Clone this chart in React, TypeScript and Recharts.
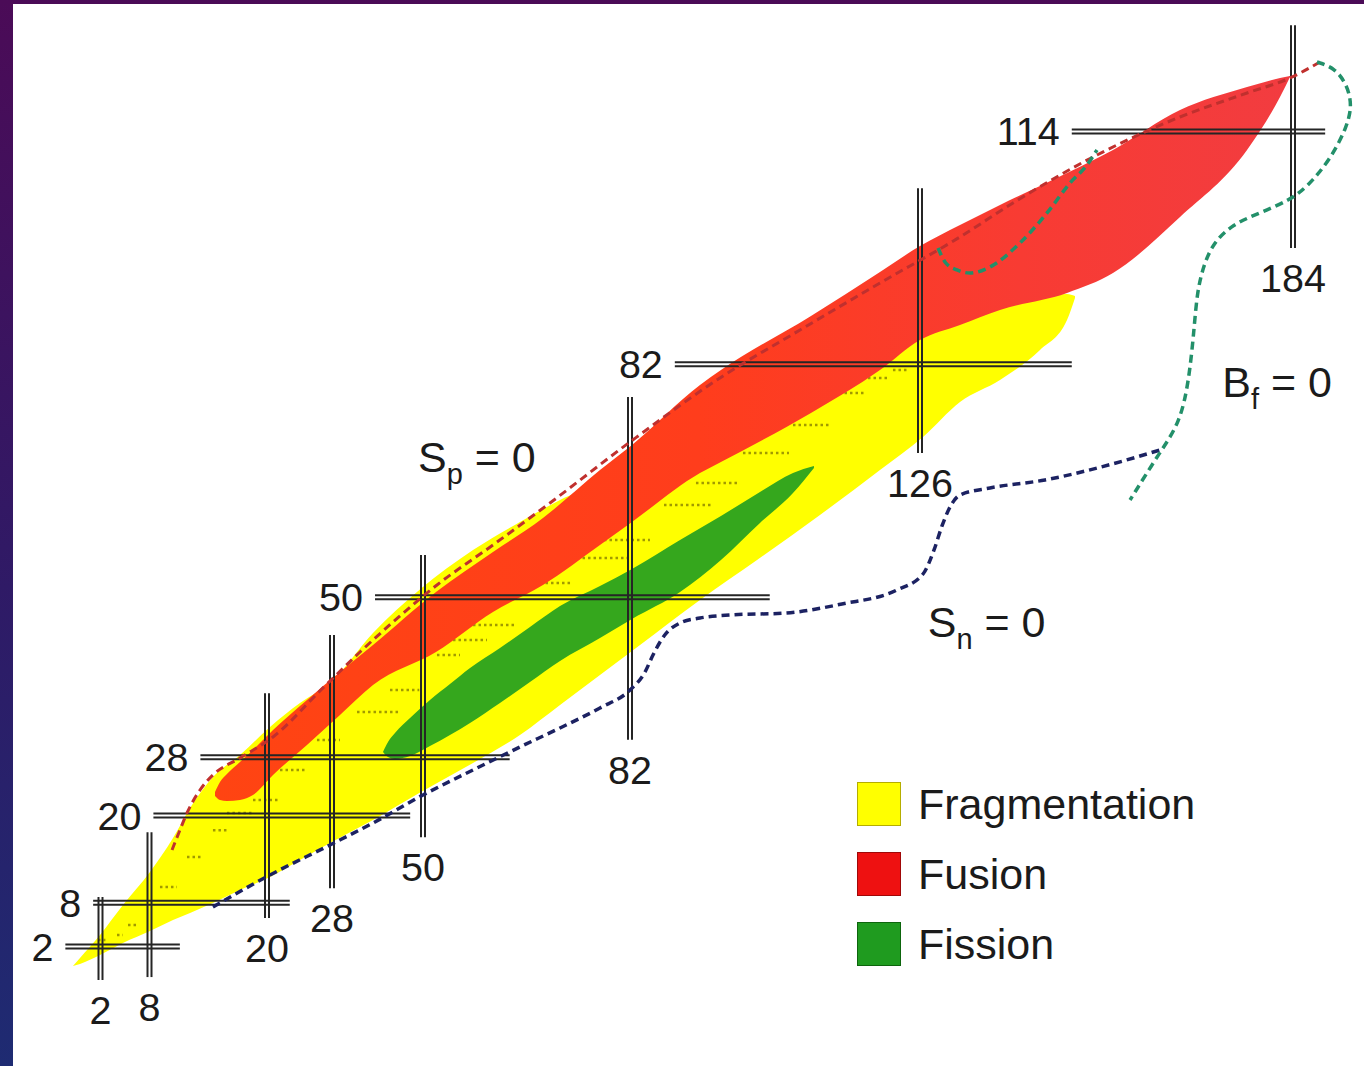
import React from 'react';
import { ComposedChart, Area, Line, XAxis, YAxis, ReferenceLine, ReferenceDot, Legend } from 'recharts';

// magic numbers: neutron lines (vertical) and proton lines (horizontal), each with the span it is drawn over
const N_MAGIC = [2, 8, 20, 28, 50, 82, 126, 184];
const N_MAGIC_SPAN = [[-2.6, 8.8], [-2.2, 17.7], [5.9, 36.8], [10.0, 44.8], [17.0, 55.8], [30.4, 77.5], [69.8, 106.2], [98.0, 128.6]];
const Z_MAGIC = [2, 8, 20, 28, 50, 82, 114];
const Z_MAGIC_SPAN = [[-2.3, 11.1], [1.1, 22.8], [8.4, 46.9], [13.2, 63.4], [38.4, 103.2], [88.8, 149.6], [149.6, 189.0]];

// fragmentation region: neutron number, lower / upper proton edge
const FRAG_N = [-1.37, -0.51, 1.94, 4.75, 8.05, 10.4, 12.14, 14.48, 17.24, 20.37, 24.06, 27.75, 37.91, 49.1, 57.73, 64.99, 71.18, 77.36, 83.52, 92.62, 101.27, 110.82, 119.93, 126.47, 132.22, 138.44, 144.66, 148.86, 150.1];
const FRAG_LO = [-0.68, -0.4, 0.83, 2.48, 4.13, 5.64, 6.61, 7.98, 9.77, 11.55, 13.89, 16.22, 19.39, 23.1, 27.22, 31.07, 35.19, 39.31, 43.43, 49.62, 55.11, 61.3, 67.48, 72.02, 76.83, 79.85, 83.97, 88.1, 91.12];
const FRAG_HI = [-0.68, 0.42, 3.58, 7.7, 12.24, 16.91, 21.03, 25.29, 28.32, 32.17, 35.46, 38.21, 45.08, 50.99, 56.49, 60.34, 63.36, 65.83, 69.54, 74.35, 79.16, 83.97, 87.41, 89.19, 90.16, 90.84, 91.39, 91.67, 91.39];

// fusion region
const FUS_N = [14.69, 15.2, 15.91, 17.24, 18.57, 20.74, 24.92, 29.93, 37.91, 52.01, 60.82, 68.55, 77.36, 82.3, 92.62, 95.8, 109.46, 119.93, 126.0, 132.22, 138.44, 148.86, 156.01, 166.43, 176.85, 181.98, 183.53];
const FUS_LO = [22.68, 22.13, 22.0, 22.13, 22.82, 25.57, 29.69, 33.81, 37.94, 42.47, 47.97, 51.68, 57.18, 60.34, 67.07, 68.58, 75.32, 81.22, 85.35, 87.41, 89.47, 91.81, 94.55, 102.25, 111.46, 118.74, 121.49];
const FUS_HI = [23.23, 24.61, 25.71, 27.36, 29.0, 31.75, 35.88, 39.72, 43.43, 50.72, 56.21, 60.89, 67.48, 70.92, 79.16, 81.22, 88.65, 94.69, 98.26, 101.15, 103.9, 108.3, 111.46, 116.95, 120.11, 121.35, 121.63];

// fission region
const FIS_N = [40.33, 41.54, 43.23, 46.86, 51.08, 54.17, 57.27, 61.9, 66.54, 71.18, 77.36, 82.3, 89.59, 95.8, 101.72, 106.73, 109.91];
const FIS_LO = [28.73, 28.04, 27.77, 28.18, 29.55, 31.07, 32.72, 35.46, 38.35, 41.24, 44.4, 47.01, 50.72, 55.11, 60.2, 64.32, 67.76];
const FIS_HI = [28.73, 30.1, 31.34, 33.4, 35.88, 38.07, 40.27, 43.02, 45.91, 48.79, 51.54, 53.88, 57.86, 61.16, 64.46, 67.07, 68.03];

// drip lines and fission barrier
const SP_N = [10.3, 11.11, 11.83, 13.16, 14.48, 17.24, 20.74, 26.89, 34.77, 42.75, 52.16, 60.82, 69.63, 82.0, 95.65, 107.8, 119.93, 132.22, 140.46, 153.52, 166.43, 176.85, 183.53, 188.2];
const SP_Z = [15.26, 18.01, 20.35, 23.51, 25.57, 27.91, 30.79, 37.53, 42.47, 46.59, 51.68, 57.18, 62.95, 71.33, 80.13, 86.72, 93.18, 99.5, 104.17, 110.77, 115.99, 119.29, 121.35, 123.55];
const SN_N = [14.48, 20.37, 27.75, 37.91, 50.0, 57.73, 64.99, 71.18, 77.36, 82.0, 84.28, 85.49, 87.16, 89.59, 92.62, 97.32, 105.67, 114.16, 122.5, 126.47, 128.18, 129.42, 130.51, 132.22, 136.89, 145.44, 154.15, 163.32];
const SN_Z = [7.43, 11.83, 15.95, 18.97, 22.82, 26.26, 29.42, 32.03, 34.78, 37.25, 39.72, 42.06, 44.67, 46.46, 47.14, 47.56, 47.83, 49.07, 50.99, 53.19, 56.49, 59.79, 62.12, 64.05, 65.01, 66.11, 67.89, 70.23];
const BF_INNER_N = [128.8, 129.89, 131.75, 133.78, 136.89, 141.55, 145.75, 149.33, 151.97, 153.52];
const BF_INNER_Z = [97.99, 96.07, 94.97, 94.55, 95.38, 98.68, 102.8, 106.92, 109.4, 111.46];
const BF_OUTER_N = [187.73, 190.53, 192.4, 193.18, 192.4, 189.76, 186.18, 183.53, 178.87, 174.67, 171.56, 170.01, 169.08, 168.61, 167.83, 166.43, 163.32, 158.66];
const BF_OUTER_Z = [123.55, 122.73, 120.39, 117.64, 114.62, 110.08, 106.37, 104.59, 102.8, 101.29, 98.68, 95.38, 91.81, 86.72, 79.85, 73.94, 69.96, 63.36];

// rows of stable nuclides: proton number and neutron extent
const STABLE_Z = [2.9, 3.58, 4.96, 10.18, 14.3, 17.99, 20.35, 22.13, 26.25, 30.38, 34.23, 37.25, 42.06, 44.12, 46.18, 51.95, 55.39, 57.86, 62.67, 65.7, 69.82, 73.67, 78.06, 80.13, 81.22];
const STABLE_N_FROM = [1.7, 4.02, 5.37, 9.07, 11.83, 14.48, 15.91, 18.57, 21.6, 26.15, 34.05, 42.02, 52.16, 54.64, 57.73, 68.09, 73.81, 77.98, 87.16, 92.01, 99.14, 106.73, 113.71, 116.44, 121.9];
const STABLE_N_TO = [2.6, 4.75, 6.47, 10.81, 13.46, 15.91, 18.57, 21.6, 24.92, 29.93, 44.44, 49.1, 55.72, 59.89, 64.53, 73.19, 81.54, 85.03, 94.29, 98.54, 106.12, 112.19, 117.5, 121.3, 124.0];

const CURVE_MAIN = ['S', 'S', 'B'];
const CURVE_SUB = ['p', 'n', 'f'];
const CURVE_N = [48.8, 127.2, 173.0];
const CURVE_Z = [67.2, 44.5, 77.5];

const LEGEND_NAMES = ['Fragmentation', 'Fusion', 'Fission'];
const LEGEND_FILL = ['#ffff00', '#ee1111', '#1f9b1f'];
const LEGEND_EDGE = ['#b5ad00', '#a00808', '#0d650d'];

// the neutron axis is stretched unevenly at light masses; knots pair N with relative positions
const N_KNOTS = [-8, 2, 8, 20, 28, 50, 82, 126, 184, 196];
const U_KNOTS = [0, 81.7, 130.7, 248.2, 313.2, 404.2, 611.2, 901.2, 1274.2, 1351.4];

const FONT = '"Liberation Sans", Arial, Helvetica, sans-serif';
const INK = '#1b1b1b';

const interp = (v: number, from: number[], to: number[]) => {
  let i = 0;
  if (v >= from[from.length - 1]) i = from.length - 2;
  else if (v > from[0]) while (v > from[i + 1]) i++;
  return to[i] + ((v - from[i]) * (to[i + 1] - to[i])) / (from[i + 1] - from[i]);
};

function stretchScale(): any {
  let dom = [0, 1];
  let rng = [0, 1];
  const scale: any = (v: any) => {
    const a = interp(dom[0], N_KNOTS, U_KNOTS);
    const b = interp(dom[1], N_KNOTS, U_KNOTS);
    return rng[0] + ((interp(Number(v), N_KNOTS, U_KNOTS) - a) / (b - a)) * (rng[1] - rng[0]);
  };
  scale.domain = (d?: any[]) => {
    if (!d) return dom.slice();
    dom = [Number(d[0]), Number(d[d.length - 1])];
    return scale;
  };
  scale.range = (r?: any[]) => {
    if (!r) return rng.slice();
    rng = [Number(r[0]), Number(r[r.length - 1])];
    return scale;
  };
  scale.invert = (px: number) => {
    const a = interp(dom[0], N_KNOTS, U_KNOTS);
    const b = interp(dom[1], N_KNOTS, U_KNOTS);
    const u = a + ((px - rng[0]) / (rng[1] - rng[0])) * (b - a);
    return interp(u, U_KNOTS, N_KNOTS);
  };
  scale.ticks = () => N_MAGIC.slice();
  scale.copy = () => stretchScale().domain(dom).range(rng);
  return scale;
}

const nScale = stretchScale();

const toBand = (ns: number[], lo: number[], hi: number[]) => ns.map((n, i) => ({ n, range: [lo[i], hi[i]] }));
const toCurve = (ns: number[], zs: number[]) => ns.map((n, i) => ({ n, z: zs[i] }));

const fragData = toBand(FRAG_N, FRAG_LO, FRAG_HI);
const fusData = toBand(FUS_N, FUS_LO, FUS_HI);
const fisData = toBand(FIS_N, FIS_LO, FIS_HI);
const spData = toCurve(SP_N, SP_Z);
const snData = toCurve(SN_N, SN_Z);
const bfInner = toCurve(BF_INNER_N, BF_INNER_Z);
const bfOuter = toCurve(BF_OUTER_N, BF_OUTER_Z);

// double rule with its number, below for N lines, left for Z lines
const magicShape = (label: number) => (p: any) => {
  const { x1, y1, x2, y2 } = p;
  const vertical = Math.abs(x1 - x2) < 1;
  if (vertical) {
    const bottom = Math.max(y1, y2);
    return (
      <g>
        <line x1={x1 - 2} x2={x2 - 2} y1={y1} y2={y2} stroke="#252525" strokeWidth={2} />
        <line x1={x1 + 2} x2={x2 + 2} y1={y1} y2={y2} stroke="#252525" strokeWidth={2} />
        <text x={x1} y={bottom + 44} textAnchor="middle" fontFamily={FONT} fontSize={39.5} fill={INK}>
          {label}
        </text>
      </g>
    );
  }
  const left = Math.min(x1, x2);
  return (
    <g>
      <line x1={x1} x2={x2} y1={y1 - 2} y2={y2 - 2} stroke="#252525" strokeWidth={2} />
      <line x1={x1} x2={x2} y1={y1 + 2} y2={y2 + 2} stroke="#252525" strokeWidth={2} />
      <text x={left - 12} y={y1 + 14} textAnchor="end" fontFamily={FONT} fontSize={39.5} fill={INK}>
        {label}
      </text>
    </g>
  );
};

const curveLabel = (i: number) => (p: any) => (
  <text x={p.cx} y={p.cy} fontFamily={FONT} fontSize={43} fill={INK}>
    {CURVE_MAIN[i]}
    <tspan dy={12} fontSize={29}>{CURVE_SUB[i]}</tspan>
    <tspan dy={-12}>{' = 0'}</tspan>
  </text>
);

const renderLegend = () => (
  <div style={{ fontFamily: FONT }}>
    {LEGEND_NAMES.map((name, i) => (
      <div key={name} style={{ display: 'flex', alignItems: 'center', height: 44, marginBottom: 26 }}>
        <span
          style={{
            width: 44,
            height: 44,
            background: LEGEND_FILL[i],
            border: `1px solid ${LEGEND_EDGE[i]}`,
            boxSizing: 'border-box',
            flex: 'none',
          }}
        />
        <span style={{ marginLeft: 17, fontSize: 43, lineHeight: '44px', color: INK, whiteSpace: 'nowrap' }}>{name}</span>
      </div>
    ))}
  </div>
);

export default function App() {
  return (
    <div
      style={{
        position: 'absolute',
        left: 0,
        top: 0,
        width: 1364,
        height: 1066,
        overflow: 'hidden',
        background: 'linear-gradient(180deg, #4b0b57 0%, #2f1a66 55%, #1e2b72 100%)',
      }}
    >
      <div style={{ position: 'absolute', left: 13, top: 4, width: 1351, height: 1062, background: '#fff', overflow: 'hidden' }}>
        <ComposedChart width={1380} height={1062} margin={{ top: 11.04, right: 22.8, bottom: 17.62, left: 5.8 }}>
          <defs>
            <linearGradient id="fusionFill" x1="0" y1="0" x2="1" y2="0">
              <stop offset="0%" stopColor="#ff4412" />
              <stop offset="45%" stopColor="#ff3d1c" />
              <stop offset="75%" stopColor="#f83b33" />
              <stop offset="100%" stopColor="#f23c40" />
            </linearGradient>
          </defs>
          <XAxis type="number" dataKey="n" domain={[-8, 196]} scale={nScale} allowDataOverflow hide />
          <YAxis type="number" domain={[-12, 130]} allowDataOverflow hide />

          <Area data={fragData} dataKey="range" name="Fragmentation" type="monotone" fill="#ffff00" fillOpacity={1} stroke="none" isAnimationActive={false} zIndex={100} />
          {STABLE_Z.map((z, i) => (
            <ReferenceLine
              key={`s${i}`}
              segment={[{ x: STABLE_N_FROM[i], y: z }, { x: STABLE_N_TO[i], y: z }]}
              stroke="#978f00"
              strokeWidth={2.5}
              strokeDasharray="2.5 3"
              strokeOpacity={0.9}
              zIndex={110}
            />
          ))}
          <Area data={fusData} dataKey="range" name="Fusion" type="monotone" fill="url(#fusionFill)" fillOpacity={1} stroke="none" isAnimationActive={false} zIndex={120} />
          <Area data={fisData} dataKey="range" name="Fission" type="monotone" fill="#35a71d" fillOpacity={1} stroke="none" isAnimationActive={false} zIndex={130} />

          {N_MAGIC.map((n, i) => (
            <ReferenceLine
              key={`n${n}`}
              segment={[{ x: n, y: N_MAGIC_SPAN[i][0] }, { x: n, y: N_MAGIC_SPAN[i][1] }]}
              shape={magicShape(n)}
              zIndex={300}
            />
          ))}
          {Z_MAGIC.map((z, i) => (
            <ReferenceLine
              key={`z${z}`}
              segment={[{ x: Z_MAGIC_SPAN[i][0], y: z }, { x: Z_MAGIC_SPAN[i][1], y: z }]}
              shape={magicShape(z)}
              zIndex={300}
            />
          ))}

          <Line data={spData} dataKey="z" type="monotone" stroke="#c0302e" strokeWidth={3} strokeDasharray="8 5" dot={false} activeDot={false} legendType="none" isAnimationActive={false} zIndex={400} />
          <Line data={snData} dataKey="z" type="monotone" stroke="#1c2262" strokeWidth={3.5} strokeDasharray="8 5" dot={false} activeDot={false} legendType="none" isAnimationActive={false} zIndex={400} />
          <Line data={bfInner} dataKey="z" type="monotone" stroke="#23906a" strokeWidth={3.5} strokeDasharray="8 5" dot={false} activeDot={false} legendType="none" isAnimationActive={false} zIndex={400} />
          <Line data={bfOuter} dataKey="z" type="basis" stroke="#23906a" strokeWidth={3.5} strokeDasharray="8 5" dot={false} activeDot={false} legendType="none" isAnimationActive={false} zIndex={400} />

          {CURVE_N.map((n, i) => (
            <ReferenceDot key={`c${i}`} x={n} y={CURVE_Z[i]} r={0} shape={curveLabel(i)} zIndex={500} />
          ))}

          <Legend
            content={renderLegend}
            layout="vertical"
            align="center"
            verticalAlign="middle"
            wrapperStyle={{ position: 'absolute', left: 844, top: 778, width: 420 }}
          />
        </ComposedChart>
      </div>
    </div>
  );
}
